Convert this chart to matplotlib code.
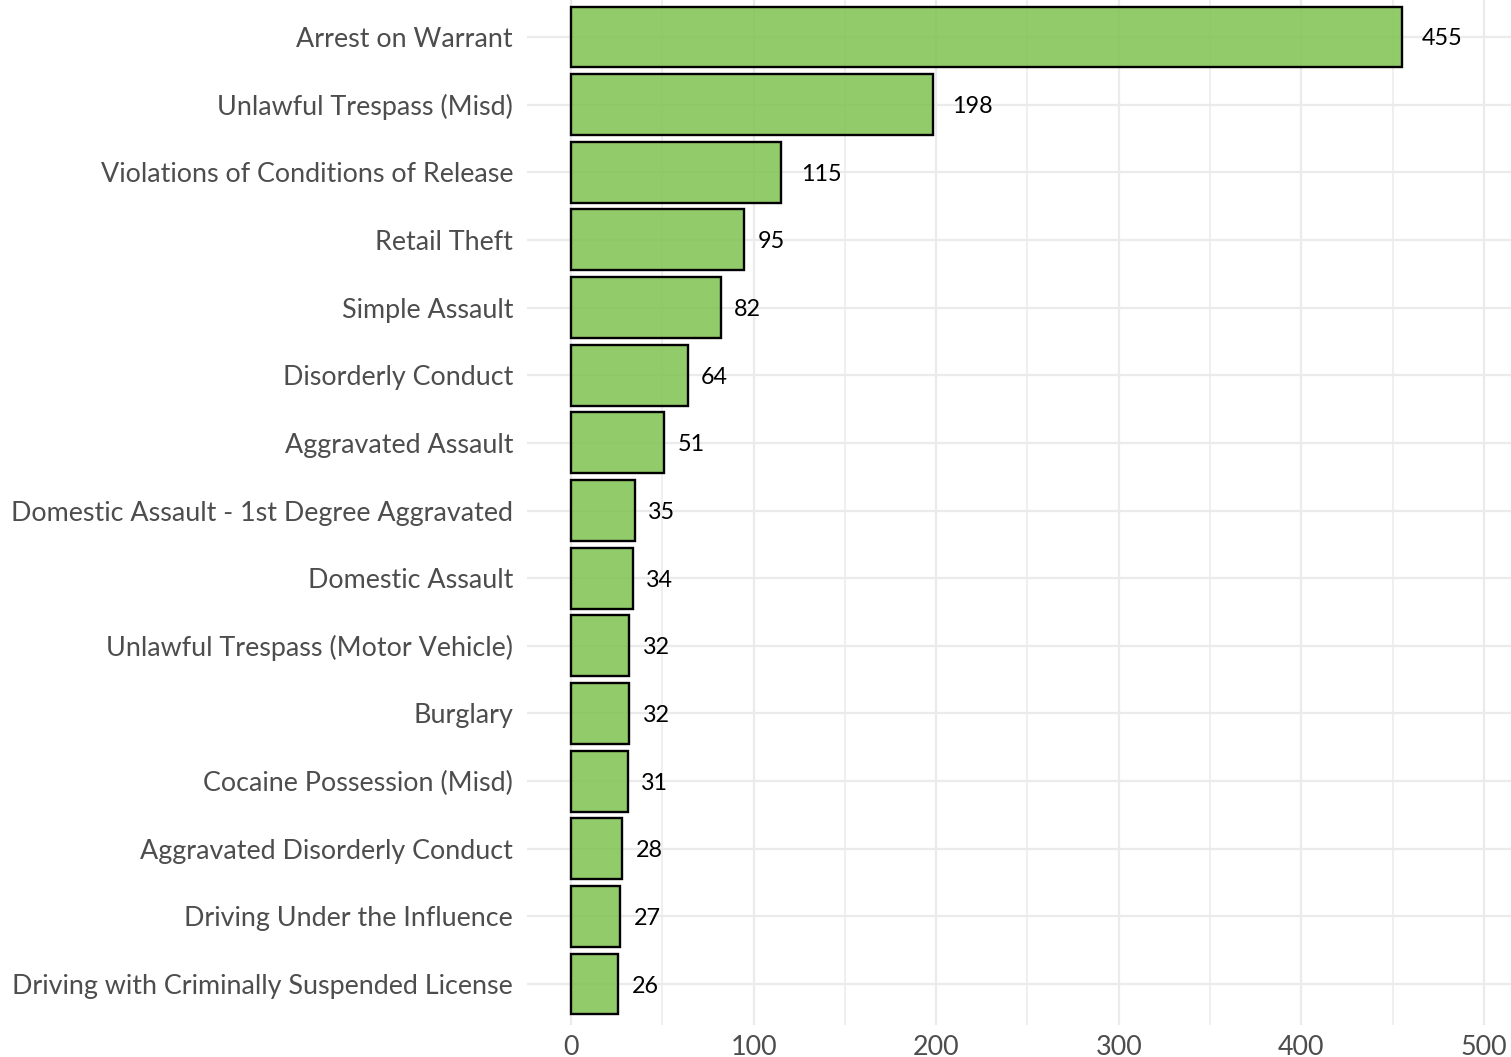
import numpy as np
import matplotlib
matplotlib.use("Agg")
import matplotlib.pyplot as plt
from matplotlib.ticker import MultipleLocator

# ------------------------------------------------------------------ #
# data (top to bottom)
# ------------------------------------------------------------------ #
CHARGES = [
    "Arrest on Warrant",
    "Unlawful Trespass (Misd)",
    "Violations of Conditions of Release",
    "Retail Theft",
    "Simple Assault",
    "Disorderly Conduct",
    "Aggravated Assault",
    "Domestic Assault - 1st Degree Aggravated",
    "Domestic Assault",
    "Unlawful Trespass (Motor Vehicle)",
    "Burglary",
    "Cocaine Possession (Misd)",
    "Aggravated Disorderly Conduct",
    "Driving Under the Influence",
    "Driving with Criminally Suspended License",
]
COUNTS = [455, 198, 115, 95, 82, 64, 51, 35, 34, 32, 32, 31, 28, 27, 26]
X_TICKS = [0, 100, 200, 300, 400, 500]

FONT = ["Lato", "DejaVu Sans"]
GRID = "#EBEBEB"
FILL = (0x7F / 255, 0xC3 / 255, 0x50 / 255, 0.85)
TICK_FS = 19.4
VAL_FS = 16.8

plt.rcParams["font.family"] = FONT

fig = plt.figure(figsize=(15.11, 10.57), dpi=100)
ax = fig.add_axes([527 / 1511, 1 - 1024.6 / 1057, 1 - 527 / 1511, (1024.6 + 3.6) / 1057])

y = np.arange(len(CHARGES))
ax.barh(y, COUNTS, height=0.9, facecolor=FILL, edgecolor="black", linewidth=1.7, zorder=3)

for yi, v in zip(y, COUNTS):
    lab = str(v)
    # ggplot-style hjust=-0.5: gap of half the label width
    ax.annotate(lab, (v, yi), xytext=(len(lab) * 4.8, 0), textcoords="offset points",
                ha="left", va="center_baseline", fontsize=VAL_FS, color="black", zorder=4)

ax.set_xlim(-24.1, 514.8)
ax.set_ylim(len(CHARGES) - 0.4, -0.6)
ax.set_yticks(y)
ax.set_yticklabels(CHARGES, fontsize=TICK_FS, color="#4D4D4D")
ax.set_xticks(X_TICKS)
ax.set_xticklabels([str(t) for t in X_TICKS], fontsize=TICK_FS, color="#4D4D4D")
ax.xaxis.set_minor_locator(MultipleLocator(50))

ax.grid(True, which="major", axis="both", color=GRID, lw=1.6, zorder=0)
ax.grid(True, which="minor", axis="x", color=GRID, lw=1.1, zorder=0)
ax.set_axisbelow(True)
ax.tick_params(axis="both", which="both", length=0)
ax.tick_params(axis="y", pad=10)
ax.tick_params(axis="x", pad=7.5)
for sp in ax.spines.values():
    sp.set_visible(False)

fig.savefig("out.png", dpi=100)
